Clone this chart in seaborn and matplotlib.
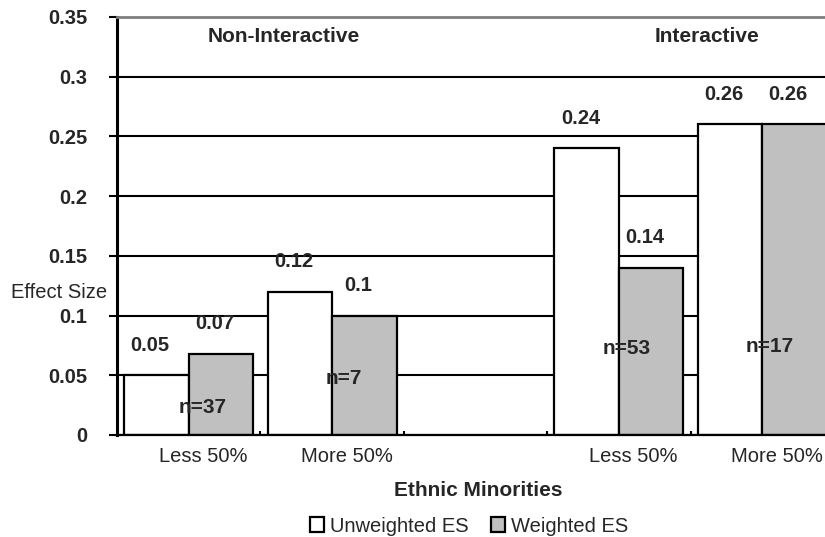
import matplotlib
matplotlib.use("Agg")
import matplotlib.pyplot as plt
from matplotlib.patches import Patch
from matplotlib.ticker import FixedLocator
import seaborn as sns
import pandas as pd

# ---- data ----
groups = ["Non-Interactive", "Non-Interactive", "Interactive", "Interactive"]
minority_share = ["Less 50%", "More 50%", "Less 50%", "More 50%"]
unweighted_es = [0.05, 0.12, 0.24, 0.26]
weighted_es = [0.068, 0.10, 0.14, 0.26]
unweighted_labels = ["0.05", "0.12", "0.24", "0.26"]
weighted_labels = ["0.07", "0.1", "0.14", "0.26"]
study_counts = ["n=37", "n=7", "n=53", "n=17"]
series_names = ["Unweighted ES", "Weighted ES"]
y_ticks = [0, 0.05, 0.1, 0.15, 0.2, 0.25, 0.3, 0.35]
y_tick_labels = ["0", "0.05", "0.1", "0.15", "0.2", "0.25", "0.3", "0.35"]

# category keys (a blank slot separates the two groups)
keys = [f"{g}|{m}" for g, m in zip(groups, minority_share)]
order = keys[:2] + ["spacer"] + keys[2:]
slot_of = {k: i for i, k in enumerate(order)}

rows = []
for k, u, w in zip(keys, unweighted_es, weighted_es):
    rows.append({"cat": k, "series": series_names[0], "es": u})
    rows.append({"cat": k, "series": series_names[1], "es": w})
df = pd.DataFrame(rows)

sns.set_theme(style="white")
plt.rcParams["font.family"] = ["Liberation Sans", "DejaVu Sans"]
FS = 14.5
FS_TXT = 15

fig = plt.figure(figsize=(8.25, 5.37), dpi=100)
fig.patch.set_facecolor("white")
ax = fig.add_axes([117 / 825, 102 / 537, 717 / 825, 418 / 537])
ax.set_facecolor("white")

# horizontal grid lines behind the bars
ax.set_axisbelow(True)
ax.yaxis.grid(True, color="black", linewidth=1.5)
ax.xaxis.grid(False)

sns.barplot(data=df, x="cat", y="es", hue="series", order=order,
            hue_order=series_names, palette=["white", "#C0C0C0"],
            width=0.9, gap=0, errorbar=None, edgecolor="black",
            linewidth=1.6, legend=False, ax=ax, zorder=2)

ax.set_xlim(-0.5, 4.5)
ax.set_ylim(0, 0.35)
ax.set_yticks(y_ticks)
ax.set_yticklabels(y_tick_labels, fontsize=FS, fontweight="bold")
ax.tick_params(axis="y", which="major", direction="out", length=5.5, width=1.5,
               color="black", left=True, pad=16)

# category labels sit slightly right of slot centres; short ticks at slot edges
label_slots = [slot_of[k] + 0.1 for k in keys]
ax.xaxis.set_major_locator(FixedLocator(label_slots))
ax.set_xticklabels(minority_share, fontsize=FS)
ax.tick_params(axis="x", which="major", length=0, pad=9)
ax.xaxis.set_minor_locator(FixedLocator([0.5, 1.5, 2.5, 3.5]))
ax.tick_params(axis="x", which="minor", direction="in", length=3, width=1.5,
               color="black", bottom=True)
ax.set_xlabel("")
ax.set_ylabel("")

for side in ["left", "bottom"]:
    ax.spines[side].set_color("black")
ax.spines["left"].set_linewidth(2.2)
ax.spines["bottom"].set_linewidth(1.6)
ax.spines["top"].set_color("#808080")
ax.spines["top"].set_linewidth(2)
ax.spines["right"].set_visible(False)

# value labels above each bar
for k, u, w, ul, wl in zip(keys, unweighted_es, weighted_es,
                           unweighted_labels, weighted_labels):
    s = slot_of[k]
    for xc, val, txt in [(s - 0.225, u, ul), (s + 0.225, w, wl)]:
        ax.annotate(txt, xy=(xc, val), xytext=(-4.5, 21.5),
                    textcoords="offset points", ha="center", va="center",
                    fontsize=FS, fontweight="bold", zorder=5)

# study counts, placed inside the bar pairs
count_pos = [(0.10, 0.0234), (1.08, 0.0477), (3.055, 0.0728), (4.05, 0.0745)]
for txt, (xx, yy) in zip(study_counts, count_pos):
    ax.text(xx, yy, txt, ha="center", va="center",
            fontsize=FS_TXT, fontweight="bold", zorder=5)

# group headings
ax.text(0.665, 0.334, "Non-Interactive", ha="center", va="center",
        fontsize=FS_TXT, fontweight="bold")
ax.text(3.614, 0.334, "Interactive", ha="center", va="center",
        fontsize=FS_TXT, fontweight="bold")

fig.text(59.5 / 825, 1 - 293 / 537, "Effect Size", ha="center", va="center",
         fontsize=FS)
fig.text(478 / 825, 1 - 490 / 537, "Ethnic Minorities", ha="center",
         va="center", fontsize=FS_TXT, fontweight="bold")

handles = [Patch(facecolor="white", edgecolor="black", linewidth=1.6),
           Patch(facecolor="#C0C0C0", edgecolor="black", linewidth=1.6)]
fig.legend(handles, series_names, loc="center", ncol=2,
           bbox_to_anchor=(469 / 825, 1 - 526 / 537), frameon=False,
           fontsize=FS, handlelength=0.7, handleheight=0.7,
           handletextpad=0.3, columnspacing=1.1, borderpad=0)

fig.savefig("out.png", dpi=100, facecolor="white")
